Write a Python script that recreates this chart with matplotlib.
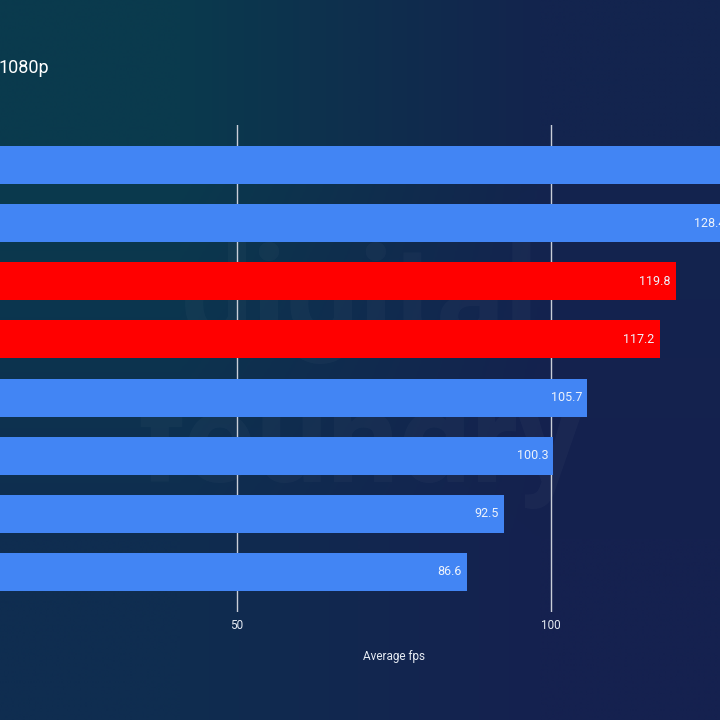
import matplotlib
matplotlib.use("Agg")
import matplotlib.pyplot as plt
import numpy as np

# data (top to bottom); category names are cropped out of the reference
avg_fps = [134.0, 128.4, 119.8, 117.2, 105.7, 100.3, 92.5, 86.6]
highlight = [False, False, True, True, False, False, False, False]
x_ticks = [50, 100]

BLUE = "#4285f4"
RED = "#ff0000"
TEXT = "#e6ebf3"

plt.rcParams['font.family'] = ['Roboto', 'DejaVu Sans']

W = H = 720
fig = plt.figure(figsize=(7.2, 7.2), dpi=100)

# gradient background
bg = fig.add_axes([0, 0, 1, 1], zorder=-10)
corners = np.array([
    [[0x0a, 0x3a, 0x4d], [0x13, 0x24, 0x4e]],
    [[0x0f, 0x2d, 0x50], [0x15, 0x21, 0x4f]],
]) / 255.0
bg.imshow(corners, extent=[0, 1, 0, 1], interpolation='bilinear', aspect='auto')
bg.set_xlim(0, 1)
bg.set_ylim(0, 1)
bg.axis('off')

# faint watermark
bg.text(0.50, 0.58, "digital", ha='center', va='center', fontsize=92,
        fontweight='bold', color='white', alpha=0.028)
bg.text(0.50, 0.38, "foundry", ha='center', va='center', fontsize=92,
        fontweight='bold', color='white', alpha=0.028)

# main axes placed in pixel terms (chart is cropped on both sides)
px_per_unit = 6.292
left_px = -77.9
right_px = left_px + 150 * px_per_unit
top_px, bottom_px = 125.0, 612.0
ax = fig.add_axes([left_px / W, 1 - bottom_px / H,
                   (right_px - left_px) / W, (bottom_px - top_px) / H])
ax.patch.set_alpha(0)

n = len(avg_fps)
pos = np.arange(n)
colors = [RED if h else BLUE for h in highlight]
ax.barh(pos, avg_fps, height=0.654, color=colors, zorder=3)

ax.set_xlim(0, 150)
ax.set_ylim(n - 1 + 0.688, -0.688)
ax.set_xticks(x_ticks)
ax.set_xticklabels([str(t) for t in x_ticks], color=TEXT, fontsize=8.5)
ax.tick_params(axis='x', length=0, pad=5)
ax.set_yticks([])
for t in x_ticks:
    ax.axvline(t, color='#c9ced8', lw=1, zorder=1)
for s in ax.spines.values():
    s.set_visible(False)

ax.set_xlabel("Average fps", color=TEXT, fontsize=8.5, labelpad=13)

# value labels inside bar ends
for p, v in zip(pos, avg_fps):
    ax.text(v - 5.0 / px_per_unit, p, f"{v:.1f}", ha='right', va='center',
            color='#eef3fb', fontsize=9, zorder=4)

fig.text(-1 / W, 1 - 68 / H, "1080p", ha='left', va='center',
         color='white', fontsize=13)

fig.savefig("out.png", dpi=100)
